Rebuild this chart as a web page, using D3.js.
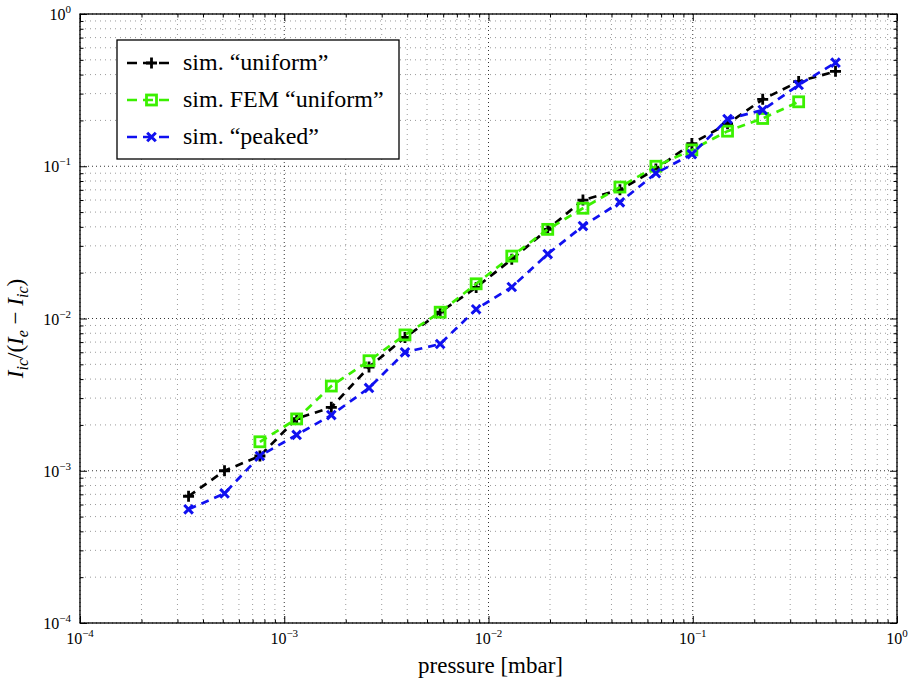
<!DOCTYPE html>
<html>
<head>
<meta charset="utf-8">
<script src="https://cdn.jsdelivr.net/npm/d3@7"></script>
<style>
body { margin: 0; background: #fff; }
</style>
</head>
<body>
<div class="main"></div>
<script>
// pressure values [mbar]
var pressure = [0.00034, 0.00051, 0.00076, 0.00115, 0.0017, 0.0026, 0.0039, 0.0058, 0.0087, 0.013,
                0.0195, 0.029, 0.044, 0.066, 0.099, 0.148, 0.22, 0.33, 0.50];
var pressureFem = [0.00076, 0.00115, 0.0017, 0.0026, 0.0039, 0.0058, 0.0087, 0.013,
                   0.0195, 0.029, 0.044, 0.066, 0.099, 0.148, 0.22, 0.33];

var uniform = [6.8e-4, 1.0e-3, 1.25e-3, 2.2e-3, 2.61e-3, 4.8e-3, 7.5e-3, 1.1e-2, 1.6e-2, 2.45e-2,
               3.85e-2, 6.0e-2, 7.0e-2, 0.096, 0.141, 0.19, 0.275, 0.36, 0.42];
var femUniform = [1.55e-3, 2.19e-3, 3.6e-3, 5.28e-3, 7.8e-3, 1.1e-2, 1.69e-2, 2.57e-2,
                  3.85e-2, 5.3e-2, 7.3e-2, 0.10, 0.128, 0.17, 0.206, 0.265];
var peaked = [5.58e-4, 7.1e-4, 1.25e-3, 1.72e-3, 2.32e-3, 3.5e-3, 6.0e-3, 6.8e-3, 1.15e-2, 1.61e-2,
              2.65e-2, 4.05e-2, 5.8e-2, 0.09, 0.12, 0.204, 0.234, 0.342, 0.479];

var majorTicks = [1e-4, 1e-3, 1e-2, 1e-1, 1];
var tickExp = ["\u22124", "\u22123", "\u22122", "\u22121", "0"];

const W = 908, H = 682;
const margin = {top: 14, right: 11, bottom: 59, left: 80};
const width = W - margin.left - margin.right;
const height = H - margin.top - margin.bottom;
const serif = "'Liberation Serif', 'Times New Roman', 'DejaVu Serif', serif";

var svg = d3.select(".main").append("svg")
    .attr("width", W)
    .attr("height", H)
    .style("font-family", serif)
    .append("g")
    .attr("transform", `translate(${margin.left},${margin.top})`);

var x = d3.scaleLog().domain([1e-4, 1]).range([0, width]);
var y = d3.scaleLog().domain([1e-4, 1]).range([height, 0]);

var minorX = x.ticks().filter(function(t) { return majorTicks.indexOf(t) < 0; });
var minorY = y.ticks().filter(function(t) { return majorTicks.indexOf(t) < 0; });

//grid
var grid = svg.append("g");
grid.selectAll("vminor").data(minorX).enter().append("line")
    .attr("x1", d => x(d)).attr("x2", d => x(d))
    .attr("y1", 0).attr("y2", height)
    .style("stroke", "#555").style("stroke-width", 0.6).style("stroke-dasharray", "1,4");
grid.selectAll("hminor").data(minorY).enter().append("line")
    .attr("y1", d => y(d)).attr("y2", d => y(d))
    .attr("x1", 0).attr("x2", width)
    .style("stroke", "#555").style("stroke-width", 0.6).style("stroke-dasharray", "1,4");
grid.selectAll("vmajor").data(majorTicks).enter().append("line")
    .attr("x1", d => x(d)).attr("x2", d => x(d))
    .attr("y1", 0).attr("y2", height)
    .style("stroke", "#000").style("stroke-width", 0.8).style("stroke-dasharray", "1,3");
grid.selectAll("hmajor").data(majorTicks).enter().append("line")
    .attr("y1", d => y(d)).attr("y2", d => y(d))
    .attr("x1", 0).attr("x2", width)
    .style("stroke", "#000").style("stroke-width", 0.8).style("stroke-dasharray", "1,3");

//ticks, inward on all four sides
var tickG = svg.append("g");
[[d3.axisBottom, x, `translate(0,${height})`], [d3.axisTop, x, "translate(0,0)"],
 [d3.axisLeft, y, "translate(0,0)"], [d3.axisRight, y, `translate(${width},0)`]].forEach(function(a) {
    var sc = a[1];
    var minor = sc === x ? minorX : minorY;
    tickG.append("g").attr("transform", a[2])
        .call(a[0](sc).tickValues(majorTicks).tickSize(-7).tickFormat(""));
    tickG.append("g").attr("transform", a[2])
        .call(a[0](sc).tickValues(minor).tickSize(-3.5).tickFormat(""));
});
tickG.selectAll(".domain").remove();
tickG.selectAll("line").style("stroke", "#000").style("stroke-width", 1);

//frame
svg.append("rect")
    .attr("x", 0).attr("y", 0)
    .attr("width", width).attr("height", height)
    .style("fill", "none").style("stroke", "#000").style("stroke-width", 1.3);

//tick labels
var xl = svg.selectAll("xlab").data(majorTicks).enter().append("text")
    .attr("x", d => x(d)).attr("y", height + 21)
    .attr("text-anchor", "middle")
    .style("font-family", serif).style("font-size", "16px");
xl.append("tspan").text("10");
xl.append("tspan").attr("dy", -7).style("font-size", "11px").text((d, i) => tickExp[i]);

var yl = svg.selectAll("ylab").data(majorTicks).enter().append("text")
    .attr("x", -9).attr("y", d => y(d) + 6)
    .attr("text-anchor", "end")
    .style("font-family", serif).style("font-size", "16px");
yl.append("tspan").text("10");
yl.append("tspan").attr("dy", -7).style("font-size", "11px").text((d, i) => tickExp[i]);

//axis labels
svg.append("text")
    .attr("x", x(Math.sqrt(1e-4 * 1)) + 2).attr("y", height + 50)
    .attr("text-anchor", "middle")
    .style("font-family", serif)
    .style("font-size", "23px")
    .text("pressure [mbar]");

var yt = svg.append("text")
    .attr("transform", `translate(${-57},${height / 2 + 10}) rotate(-90)`)
    .attr("text-anchor", "middle")
    .style("font-family", serif)
    .style("font-size", "23px");
yt.append("tspan").style("font-style", "italic").text("I");
yt.append("tspan").attr("dy", 5).style("font-size", "16px").style("font-style", "italic").text("ic");
yt.append("tspan").attr("dy", -5).text("/(");
yt.append("tspan").style("font-style", "italic").text("I");
yt.append("tspan").attr("dy", 5).style("font-size", "16px").style("font-style", "italic").text("e");
yt.append("tspan").attr("dy", -5).text(" \u2212 ");
yt.append("tspan").style("font-style", "italic").text("I");
yt.append("tspan").attr("dy", 5).style("font-size", "16px").style("font-style", "italic").text("ic");
yt.append("tspan").attr("dy", -5).text(")");

//markers
function marker(g, type, color, cx, cy) {
    if (type === "plus") {
        g.append("path")
            .attr("d", `M${cx - 5.5},${cy}H${cx + 5.5}M${cx},${cy - 5.5}V${cy + 5.5}`)
            .style("stroke", color).style("stroke-width", 2.8).style("fill", "none");
    } else if (type === "square") {
        g.append("rect")
            .attr("x", cx - 5).attr("y", cy - 5).attr("width", 10).attr("height", 10)
            .style("stroke", color).style("stroke-width", 2.8).style("fill", "none");
    } else {
        g.append("path")
            .attr("d", `M${cx - 4.3},${cy - 4.3}L${cx + 4.3},${cy + 4.3}M${cx - 4.3},${cy + 4.3}L${cx + 4.3},${cy - 4.3}`)
            .style("stroke", color).style("stroke-width", 3).style("fill", "none");
    }
}

var series = [
    {name: "sim. \u201cuniform\u201d", xs: pressure, ys: uniform, color: "#000000", type: "plus"},
    {name: "sim. FEM \u201cuniform\u201d", xs: pressureFem, ys: femUniform, color: "#3bf000", type: "square"},
    {name: "sim. \u201cpeaked\u201d", xs: pressure, ys: peaked, color: "#1010f0", type: "cross"}
];

var line = d3.line().x(d => x(d[0])).y(d => y(d[1]));

series.forEach(function(s) {
    var pts = s.xs.map((v, i) => [v, s.ys[i]]);
    var g = svg.append("g");
    g.append("path")
        .datum(pts)
        .attr("d", line)
        .style("fill", "none")
        .style("stroke", s.color)
        .style("stroke-width", 2.7)
        .style("stroke-dasharray", "8,6");
    pts.forEach(function(p) { marker(g, s.type, s.color, x(p[0]), y(p[1])); });
});

//legend
var lg = svg.append("g").attr("transform", "translate(37,26)");
lg.append("rect")
    .attr("x", 0).attr("y", 0).attr("width", 282).attr("height", 119)
    .style("fill", "#fff").style("stroke", "#000").style("stroke-width", 1.3);
series.forEach(function(s, i) {
    var cy = 23 + i * 37;
    lg.append("line")
        .attr("x1", 10).attr("x2", 57).attr("y1", cy).attr("y2", cy)
        .style("stroke", s.color).style("stroke-width", 2.7)
        .style("stroke-dasharray", "10,6");
    marker(lg, s.type, s.color, 34.5, cy);
    lg.append("text")
        .attr("x", 66).attr("y", cy + 7)
        .style("font-family", serif)
        .style("font-size", "24px")
        .text(s.name);
});
</script>
</body>
</html>
